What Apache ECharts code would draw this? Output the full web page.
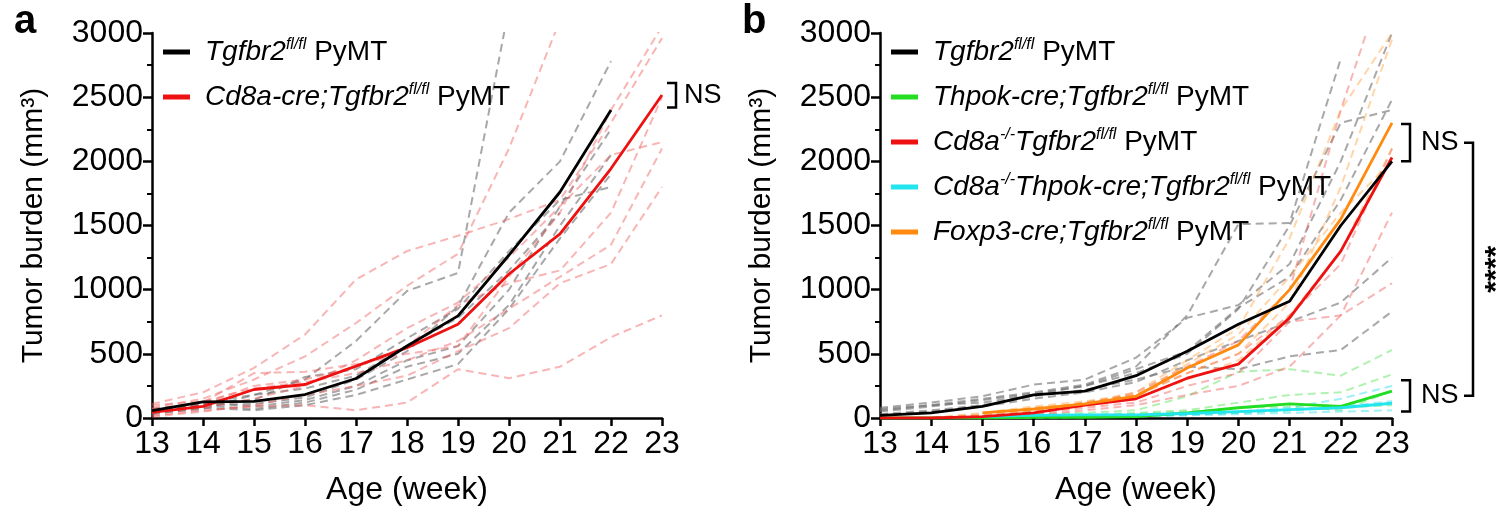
<!DOCTYPE html>
<html>
<head>
<meta charset="utf-8">
<script src="https://cdn.jsdelivr.net/npm/echarts@6/dist/echarts.min.js"></script>
<style>
  html, body { margin: 0; padding: 0; background: #fff; }
  #chart { width: 1500px; height: 512px; }
</style>
</head>
<body>
<div id="chart"></div>
<script>
// x axis: age in weeks
var weeks = [13, 14, 15, 16, 17, 18, 19, 20, 21, 22, 23];

// ---- panel a: group means ----
var aCtrlMean = [57, 125, 130, 183, 308, 561, 796, 1270, 1761, 2400];
var aCd8creMean = [44, 91, 222, 261, 404, 548, 730, 1122, 1435, 1944, 2517];

// panel a: individual mice, Tgfbr2 fl/fl (grey dashed)
var aCtrl1 = [40, 70, 180, 300, 600, 990, 1130, 3200];
var aCtrl2 = [60, 100, 110, 160, 300, 520, 870, 1600, 2000, 2780];
var aCtrl3 = [70, 120, 90, 140, 250, 450, 560, 1000, 1650, 2250];
var aCtrl4 = [50, 100, 70, 120, 220, 400, 500, 880, 1500, 2050];
var aCtrl5 = [40, 110, 140, 320, 380, 620, 850, 1300, 1700, 1800];
var aCtrl6 = [60, 120, 180, 230, 330, 560, 780, 1150, 1600];
var aCtrl7 = [30, 80, 60, 100, 180, 300, 420, 850, 1400, 1900];

// panel a: individual mice, Cd8a-cre;Tgfbr2 fl/fl (red dashed)
var aCre1 = [110, 200, 390, 650, 1080, 1300, 1420, 1550, 1700, 2300, 2960];
var aCre2 = [80, 150, 300, 480, 740, 1030, 1280, 2100, 3100];
var aCre3 = [60, 120, 350, 360, 420, 500, 560, 1100, 1600, 2400, 3050];
var aCre4 = [40, 80, 150, 250, 450, 700, 900, 1250, 1650, 2050, 2150];
var aCre5 = [100, 130, 230, 280, 350, 450, 600, 850, 1100, 1350, 2100];
var aCre6 = [20, 60, 90, 100, 60, 120, 380, 310, 400, 630, 800];
var aCre7 = [10, 50, 100, 180, 250, 330, 520, 700, 1050, 1200, 1800];
var aCre8 = [70, 110, 250, 300, 400, 560, 880, 1050, 1150, 1600, 2500];

// ---- panel b: group means ----
var bCtrlMean = [20, 40, 90, 180, 210, 330, 520, 730, 910, 1500, 2000];
var bThpokMean = [0, 0, 0, 5, 5, 10, 40, 80, 110, 90, 210];
var bCd8koMean = [0, 0, 10, 40, 100, 150, 310, 420, 780, 1300, 2030];
var bDkoMean = [null, null, 10, 20, 25, 25, 35, 50, 65, 80, 115];
var bFoxp3Mean = [null, null, 40, 70, 110, 170, 390, 570, 1000, 1550, 2300];

// panel b: individual mice
var bCtrl1 = [60, 100, 150, 200, 260, 400, 800, 1510, 1520, 2800];
var bCtrl2 = [80, 120, 170, 260, 300, 470, 780, 880, 1200, 2000, 3000];
var bCtrl3 = [50, 90, 140, 190, 250, 380, 520, 860, 1100, 1700, 2480];
var bCtrl4 = [30, 60, 100, 170, 220, 300, 400, 380, 480, 530, 830];
var bCtrl5 = [20, 50, 90, 150, 200, 280, 450, 600, 750, 900, 1250];
var bCtrl6 = [70, 100, 120, 180, 250, 350, 500, 850, 1500, 2300, 2400];

var bThpok1 = [0, 0, 10, 30, 40, 60, 170, 360, 380, 330, 530];
var bThpok2 = [0, 0, 0, 10, 20, 40, 60, 120, 180, 200, 340];
var bThpok3 = [0, 0, 0, 0, 10, 20, 30, 40, 60, 80, 100];
var bThpok4 = [0, 0, 5, 10, 20, 30, 50, 80, 90, 60, 210];

var bCd8ko1 = [0, 0, 10, 40, 100, 200, 400, 600, 1000, 2400, 3600];
var bCd8ko2 = [0, 0, 10, 30, 80, 120, 250, 350, 750, 800, 1600];
var bCd8ko3 = [0, 0, 0, 20, 60, 100, 180, 250, 400, 800, 1050];
var bCd8ko4 = [0, 0, 20, 50, 120, 180, 350, 500, 800, 1200, 2100];

var bDko1 = [0, 0, 0, 10, 15, 20, 30, 50, 80, 150, 250];
var bDko2 = [0, 0, 0, 0, 5, 10, 20, 30, 40, 50, 60];
var bDko3 = [0, 0, 0, 5, 10, 15, 25, 40, 60, 90, 130];

var bFoxp31 = [0, 0, 20, 60, 120, 200, 450, 700, 1400, 2400, 3000];
var bFoxp32 = [0, 0, 30, 80, 110, 170, 350, 500, 900, 1800, 2950];
var bFoxp33 = [0, 0, 10, 50, 90, 150, 300, 450, 800, 1300, 2100];
var bFoxp34 = [0, 0, 40, 90, 130, 180, 420, 650, 1100, 1600, 2000];

// y ranges of the significance brackets
var nsA = [2420, 2610];
var nsBTop = [2000, 2290];
var nsBBottom = [50, 295];

var FONT = '"Liberation Sans", Arial, sans-serif';

function pairs(vals) {
  var out = [];
  for (var i = 0; i < vals.length; i++) {
    if (vals[i] != null) out.push([weeks[i], vals[i]]);
  }
  return out;
}

function dashed(vals, color, g) {
  return {
    type: 'line', xAxisIndex: g, yAxisIndex: g, data: pairs(vals),
    symbol: 'none', silent: true, z: 1,
    lineStyle: { type: [8, 5], width: 2, color: color }
  };
}

function mean(name, vals, color, g, z) {
  return {
    name: name, type: 'line', xAxisIndex: g, yAxisIndex: g, data: pairs(vals),
    symbol: 'none', z: z || 3, color: color,
    lineStyle: { width: 2.8, color: color }
  };
}

var legendText = {
  aCtrl: '{p| }{i|Tgfbr2}{s|fl/fl}{n| PyMT}',
  aCre: '{p| }{i|Cd8a-cre;Tgfbr2}{s|fl/fl}{n| PyMT}',
  bCtrl: '{p| }{i|Tgfbr2}{s|fl/fl}{n| PyMT}',
  bThpok: '{p| }{i|Thpok-cre;Tgfbr2}{s|fl/fl}{n| PyMT}',
  bCd8ko: '{p| }{i|Cd8a}{s|-/-}{i|Tgfbr2}{s|fl/fl}{n| PyMT}',
  bDko: '{p| }{i|Cd8a}{s|-/-}{i|Thpok-cre;Tgfbr2}{s|fl/fl}{n| PyMT}',
  bFoxp3: '{p| }{i|Foxp3-cre;Tgfbr2}{s|fl/fl}{n| PyMT}'
};

var rich = {
  p: { width: 10, fontSize: 28, lineHeight: 30 },
  i: { fontStyle: 'italic', fontSize: 28, lineHeight: 30, color: '#000', fontFamily: FONT },
  s: { fontStyle: 'italic', fontSize: 16, lineHeight: 17, verticalAlign: 'top', color: '#000', fontFamily: FONT },
  n: { fontSize: 28, lineHeight: 30, color: '#000', fontFamily: FONT }
};

function legend(left, names) {
  return {
    data: names, orient: 'vertical', left: left, top: 32, itemGap: 16,
    icon: 'rect', itemWidth: 27, itemHeight: 5, selectedMode: false,
    formatter: function (n) { return legendText[n]; },
    textStyle: { rich: rich }
  };
}

function xAx(g) {
  return {
    type: 'value', gridIndex: g, min: 13, max: 23, interval: 1,
    name: 'Age (week)', nameLocation: 'middle', nameGap: 56,
    nameTextStyle: { fontSize: 32, color: '#000', fontFamily: FONT },
    axisLine: { lineStyle: { color: '#000', width: 2.5 } },
    axisTick: { length: 8, lineStyle: { color: '#000', width: 2.5 } },
    axisLabel: { fontSize: 32, color: '#000', margin: 10, fontFamily: FONT },
    splitLine: { show: false }
  };
}

function yAx(g) {
  return {
    type: 'value', gridIndex: g, min: 0, max: 3000, interval: 500,
    name: 'Tumor burden (mm³)', nameLocation: 'middle', nameGap: 103,
    nameTextStyle: { fontSize: 30, color: '#000', fontFamily: FONT },
    axisLine: { show: true, lineStyle: { color: '#000', width: 2.5 } },
    axisTick: { length: 9, lineStyle: { color: '#000', width: 2.5 } },
    minorTick: { show: true, splitNumber: 2, length: 5, lineStyle: { color: '#000', width: 2 } },
    axisLabel: { fontSize: 32, color: '#000', margin: 9, fontFamily: FONT,
      formatter: function (v) { return String(v); } },
    splitLine: { show: false }
  };
}

var GREY = 'rgba(110,110,110,0.6)';
var PINK = 'rgba(240,90,90,0.45)';
var LGREEN = 'rgba(60,220,60,0.4)';
var LCYAN = 'rgba(40,220,235,0.45)';
var LORANGE = 'rgba(255,150,40,0.4)';

var series = [
  dashed(aCtrl1, GREY, 0), dashed(aCtrl2, GREY, 0), dashed(aCtrl3, GREY, 0),
  dashed(aCtrl4, GREY, 0), dashed(aCtrl5, GREY, 0), dashed(aCtrl6, GREY, 0),
  dashed(aCtrl7, GREY, 0),
  dashed(aCre1, PINK, 0), dashed(aCre2, PINK, 0), dashed(aCre3, PINK, 0),
  dashed(aCre4, PINK, 0), dashed(aCre5, PINK, 0), dashed(aCre6, PINK, 0),
  dashed(aCre7, PINK, 0), dashed(aCre8, PINK, 0),
  mean('aCtrl', aCtrlMean, '#000000', 0, 4),
  mean('aCre', aCd8creMean, '#ee1111', 0, 3),

  dashed(bCtrl1, GREY, 1), dashed(bCtrl2, GREY, 1), dashed(bCtrl3, GREY, 1),
  dashed(bCtrl4, GREY, 1), dashed(bCtrl5, GREY, 1), dashed(bCtrl6, GREY, 1),
  dashed(bThpok1, LGREEN, 1), dashed(bThpok2, LGREEN, 1), dashed(bThpok3, LGREEN, 1),
  dashed(bThpok4, LGREEN, 1),
  dashed(bCd8ko1, PINK, 1), dashed(bCd8ko2, PINK, 1), dashed(bCd8ko3, PINK, 1),
  dashed(bCd8ko4, PINK, 1),
  dashed(bDko1, LCYAN, 1), dashed(bDko2, LCYAN, 1), dashed(bDko3, LCYAN, 1),
  dashed(bFoxp31, LORANGE, 1), dashed(bFoxp32, LORANGE, 1), dashed(bFoxp33, LORANGE, 1),
  dashed(bFoxp34, LORANGE, 1),
  mean('bCtrl', bCtrlMean, '#000000', 1, 5),
  mean('bThpok', bThpokMean, '#22dd22', 1, 3),
  mean('bCd8ko', bCd8koMean, '#ee1111', 1, 4),
  mean('bDko', bDkoMean, '#22e5ee', 1, 3),
  mean('bFoxp3', bFoxp3Mean, '#ff8a10', 1, 4)
];

var chart = echarts.init(document.getElementById('chart'));
chart.setOption({
  animation: false,
  backgroundColor: '#fff',
  title: [
    { text: 'a', left: 9, top: -3, textStyle: { fontSize: 40, fontWeight: 'bold', color: '#000', fontFamily: FONT } },
    { text: 'b', left: 737, top: -3, textStyle: { fontSize: 40, fontWeight: 'bold', color: '#000', fontFamily: FONT } }
  ],
  legend: [
    legend(158, ['aCtrl', 'aCre']),
    legend(886, ['bCtrl', 'bThpok', 'bCd8ko', 'bDko', 'bFoxp3'])
  ],
  grid: [
    { left: 152, top: 33, width: 510, height: 385 },
    { left: 880, top: 33, width: 512, height: 385 }
  ],
  xAxis: [xAx(0), xAx(1)],
  yAxis: [yAx(0), yAx(1)],
  series: series
});

// significance brackets, placed from data values
function px(g, x, y) { return chart.convertToPixel({ gridIndex: g }, [x, y]); }

function bracket(g, range, dx) {
  var top = px(g, 23, range[1]);
  var bot = px(g, 23, range[0]);
  var x = top[0] + dx;
  return {
    type: 'polyline', silent: true,
    shape: { points: [[x - 9, top[1]], [x, top[1]], [x, bot[1]], [x - 9, bot[1]]] },
    style: { stroke: '#000', lineWidth: 2.5, fill: null }
  };
}

function label(g, range, dx, txt) {
  var top = px(g, 23, range[1]);
  var bot = px(g, 23, range[0]);
  return {
    type: 'text', silent: true,
    style: {
      text: txt, x: top[0] + dx, y: (top[1] + bot[1]) / 2,
      fontSize: 27, fontFamily: FONT, fill: '#000', verticalAlign: 'middle', align: 'left'
    }
  };
}

var upMid = px(1, 23, (nsBTop[0] + nsBTop[1]) / 2);
var loMid = px(1, 23, (nsBBottom[0] + nsBBottom[1]) / 2);
var bigX = upMid[0] + 81;

chart.setOption({
  graphic: [
    bracket(0, nsA, 14), label(0, nsA, 22, 'NS'),
    bracket(1, nsBTop, 18), label(1, nsBTop, 29, 'NS'),
    bracket(1, nsBBottom, 18), label(1, nsBBottom, 29, 'NS'),
    {
      type: 'polyline', silent: true,
      shape: { points: [[bigX - 9, upMid[1]], [bigX, upMid[1]], [bigX, loMid[1]], [bigX - 9, loMid[1]]] },
      style: { stroke: '#000', lineWidth: 2.5, fill: null }
    },
    {
      type: 'text', silent: true, x: bigX + 24, y: (upMid[1] + loMid[1]) / 2, rotation: Math.PI / 2,
      style: { text: '****', fontSize: 30, fontWeight: 'bold', fontFamily: FONT, fill: '#000', align: 'center', verticalAlign: 'middle' }
    }
  ]
});
</script>
</body>
</html>
